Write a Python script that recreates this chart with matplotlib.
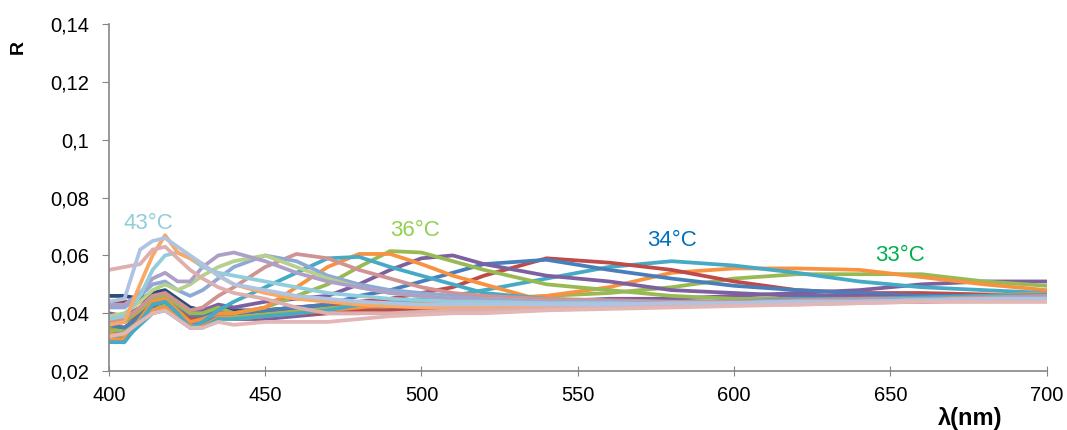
import numpy as np
import matplotlib
matplotlib.use("Agg")
import matplotlib.pyplot as plt
from matplotlib.ticker import FuncFormatter

plt.rcParams['font.family'] = ['Liberation Sans', 'DejaVu Sans']

wl = [400, 405, 410, 414, 418, 422, 426, 430, 435, 440, 450, 460, 470, 480, 490,
      500, 510, 520, 540, 560, 580, 600, 620, 640, 660, 680, 700]

# reflectance spectra, roughly from coolest to hottest
r_purple_a = [.036, .035, .039, .042, .043, .040, .037, .037, .039, .038, .040, .041, .042, .042, .043,
              .043, .043, .044, .044, .045, .045, .046, .047, .048, .050, .051, .051]
r_green_33 = [.034, .034, .038, .041, .043, .040, .037, .037, .040, .039, .040, .041, .042, .043, .043,
              .044, .044, .045, .046, .047, .049, .052, .0535, .0535, .0535, .051, .0495]
r_orange_600 = [.033, .032, .037, .041, .042, .039, .036, .036, .039, .038, .039, .040, .041, .042, .043,
                .043, .044, .044, .046, .049, .054, .0555, .0555, .055, .0525, .050, .048]
r_teal_575 = [.032, .031, .036, .040, .041, .038, .035, .035, .038, .038, .039, .040, .041, .043, .044,
              .045, .046, .048, .052, .056, .058, .0565, .054, .051, .049, .048, .047]
r_red_540 = [.036, .037, .040, .043, .044, .041, .038, .038, .040, .040, .041, .042, .043, .044, .045,
             .047, .049, .053, .059, .0575, .055, .051, .048, .047, .047, .0465, .046]
r_blue_520 = [.036, .035, .039, .043, .044, .041, .037, .037, .040, .040, .041, .042, .043, .046, .048,
              .051, .054, .057, .0585, .055, .052, .0495, .048, .047, .046, .046, .045]
r_purple_505 = [.040, .039, .042, .046, .047, .044, .041, .041, .043, .042, .044, .045, .046, .050, .055,
                .059, .060, .057, .053, .051, .048, .047, .046, .046, .0455, .0455, .045]
r_green_36 = [.037, .037, .041, .045, .046, .043, .040, .040, .042, .040, .042, .046, .050, .056, .0615,
              .061, .058, .055, .050, .048, .046, .045, .045, .045, .045, .0455, .046]
r_orange_478 = [.031, .031, .038, .044, .045, .041, .037, .038, .040, .040, .042, .049, .056, .0605, .0605,
                .057, .053, .050, .044, .043, .043, .044, .0445, .045, .045, .046, .047]
r_teal_470 = [.030, .030, .037, .043, .044, .040, .035, .037, .041, .044, .049, .054, .059, .0595, .056,
              .053, .050, .047, .045, .044, .044, .044, .045, .045, .0455, .046, .0465]
r_rose_462 = [.037, .038, .042, .046, .047, .044, .041, .042, .046, .049, .056, .0605, .059, .055, .052,
              .049, .047, .046, .045, .0445, .044, .044, .0445, .045, .045, .0455, .046]
r_lavblue_452 = [.042, .042, .046, .050, .051, .048, .046, .048, .052, .056, .060, .058, .053, .050, .048,
                 .047, .046, .045, .044, .044, .0435, .0435, .044, .0445, .045, .045, .0455]
r_ltgreen_448 = [.039, .040, .044, .048, .050, .048, .050, .053, .056, .058, .060, .056, .052, .049, .047,
                 .046, .045, .045, .044, .044, .0435, .0435, .044, .044, .0445, .045, .045]
r_ltpurple_437 = [.043, .043, .047, .052, .054, .051, .051, .056, .060, .061, .058, .054, .051, .049, .047,
                  .046, .045, .045, .044, .044, .0435, .0435, .044, .044, .0445, .045, .045]
r_ltteal_422 = [.038, .039, .046, .055, .060, .061, .059, .056, .054, .053, .051, .049, .047, .046, .045,
                .0445, .044, .044, .0435, .0435, .043, .0435, .044, .044, .0445, .045, .045]
r_ltorange_418 = [.036, .037, .050, .060, .067, .061, .059, .057, .053, .050, .047, .045, .044, .043, .0425,
                  .042, .042, .042, .042, .0425, .043, .043, .0435, .044, .0445, .045, .045]
r_pink_top = [.055, .056, .057, .062, .063, .059, .055, .052, .049, .047, .045, .042, .040, .040, .040,
              .0405, .041, .041, .0415, .042, .0425, .043, .043, .0435, .044, .044, .044]
r_ltblue_43 = [.044, .045, .062, .065, .066, .063, .060, .057, .053, .050, .048, .046, .045, .044, .0435,
               .043, .043, .043, .043, .043, .0435, .0435, .044, .044, .0445, .045, .045]
r_darkred = [.044, .044, .044, .046, .047, .044, .041, .040, .041, .040, .040, .041, .041, .0415, .042,
             .042, .042, .0425, .043, .043, .0435, .044, .044, .0445, .045, .045, .0455]
r_darkblue = [.046, .046, .045, .047, .048, .045, .042, .041, .042, .041, .041, .042, .042, .042, .042,
              .0425, .0425, .043, .043, .0435, .044, .044, .0445, .045, .045, .0455, .046]
r_blue_low = [.039, .038, .041, .044, .045, .042, .039, .039, .041, .040, .041, .041, .042, .042, .042,
              .042, .042, .0425, .043, .043, .0435, .044, .044, .0445, .045, .045, .0455]
r_green_low = [.035, .035, .039, .042, .044, .041, .038, .038, .040, .039, .040, .041, .041, .041, .042,
               .042, .042, .042, .0425, .043, .043, .0435, .044, .044, .0445, .045, .045]
r_purple_low = [.033, .033, .037, .041, .043, .040, .036, .036, .039, .038, .038, .039, .040, .040, .041,
                .041, .041, .042, .042, .0425, .043, .043, .0435, .044, .044, .0445, .045]
r_red_low = [.034, .034, .038, .042, .043, .040, .037, .037, .039, .038, .039, .040, .040, .041, .041,
             .041, .042, .042, .042, .0425, .043, .043, .0435, .044, .044, .0445, .045]
r_pink_low = [.032, .033, .037, .040, .041, .038, .035, .035, .037, .036, .037, .037, .037, .038, .039,
              .0395, .040, .040, .041, .0415, .042, .0425, .043, .0435, .044, .044, .044]

series = [
    (r_darkred, '#8C3836'), (r_darkblue, '#2C4D75'), (r_blue_low, '#4A7EBB'),
    (r_green_low, '#98B954'), (r_purple_low, '#7D60A0'), (r_red_low, '#BE4B48'),
    (r_purple_a, '#7D60A0'), (r_green_33, '#98B954'), (r_orange_600, '#F69240'),
    (r_teal_575, '#46AAC5'), (r_red_540, '#BE4B48'), (r_blue_520, '#4A7EBB'),
    (r_purple_505, '#7D60A0'), (r_green_36, '#98B954'), (r_orange_478, '#F69240'),
    (r_teal_470, '#46AAC5'), (r_rose_462, '#D19391'), (r_lavblue_452, '#8EA9D5'),
    (r_ltgreen_448, '#B7D08C'), (r_ltpurple_437, '#ADA0C8'), (r_ltteal_422, '#93CDDD'),
    (r_ltorange_418, '#F9A866'), (r_pink_top, '#DDAFAE'), (r_ltblue_43, '#AFC3E2'),
    (r_pink_low, '#E3B7B6'),
]

fig = plt.figure(figsize=(10.67, 4.3), dpi=100)
ax = fig.add_axes([0.102, 0.137, 0.879, 0.807])

for r, c in series:
    ax.plot(wl, r, color=c, lw=2.7, solid_joinstyle='round', solid_capstyle='round')

ax.set_xlim(400, 700)
ax.set_ylim(0.02, 0.14)
ax.set_xticks(np.arange(400, 701, 50))
ax.set_yticks(np.arange(0.02, 0.141, 0.02))
ax.yaxis.set_major_formatter(FuncFormatter(lambda v, p: ('%g' % round(v, 2)).replace('.', ',')))

for s in ['top', 'right']:
    ax.spines[s].set_visible(False)
for s in ['left', 'bottom']:
    ax.spines[s].set_color('#868686')
    ax.spines[s].set_linewidth(1.2)
ax.tick_params(axis='y', direction='out', length=5, color='#868686', labelsize=14.5, pad=9)
ax.tick_params(axis='x', direction='inout', length=7, color='#868686', labelsize=14.5, pad=7)

ax.text(412.5, 0.071, '43°C', color='#92CDDC', fontsize=16, ha='center', va='center')
ax.text(498, 0.0685, '36°C', color='#92D050', fontsize=16, ha='center', va='center')
ax.text(580, 0.065, '34°C', color='#0070C0', fontsize=16, ha='center', va='center')
ax.text(653, 0.060, '33°C', color='#00B050', fontsize=16, ha='center', va='center')

fig.text(970 / 1067, 1 - 418 / 430, 'λ(nm)', fontsize=17, fontweight='bold', ha='center', va='center')
fig.text(18 / 1067, 1 - 47 / 430, 'R', fontsize=14, fontweight='bold', rotation=90, ha='center', va='center')

fig.savefig('out.png', dpi=100)
